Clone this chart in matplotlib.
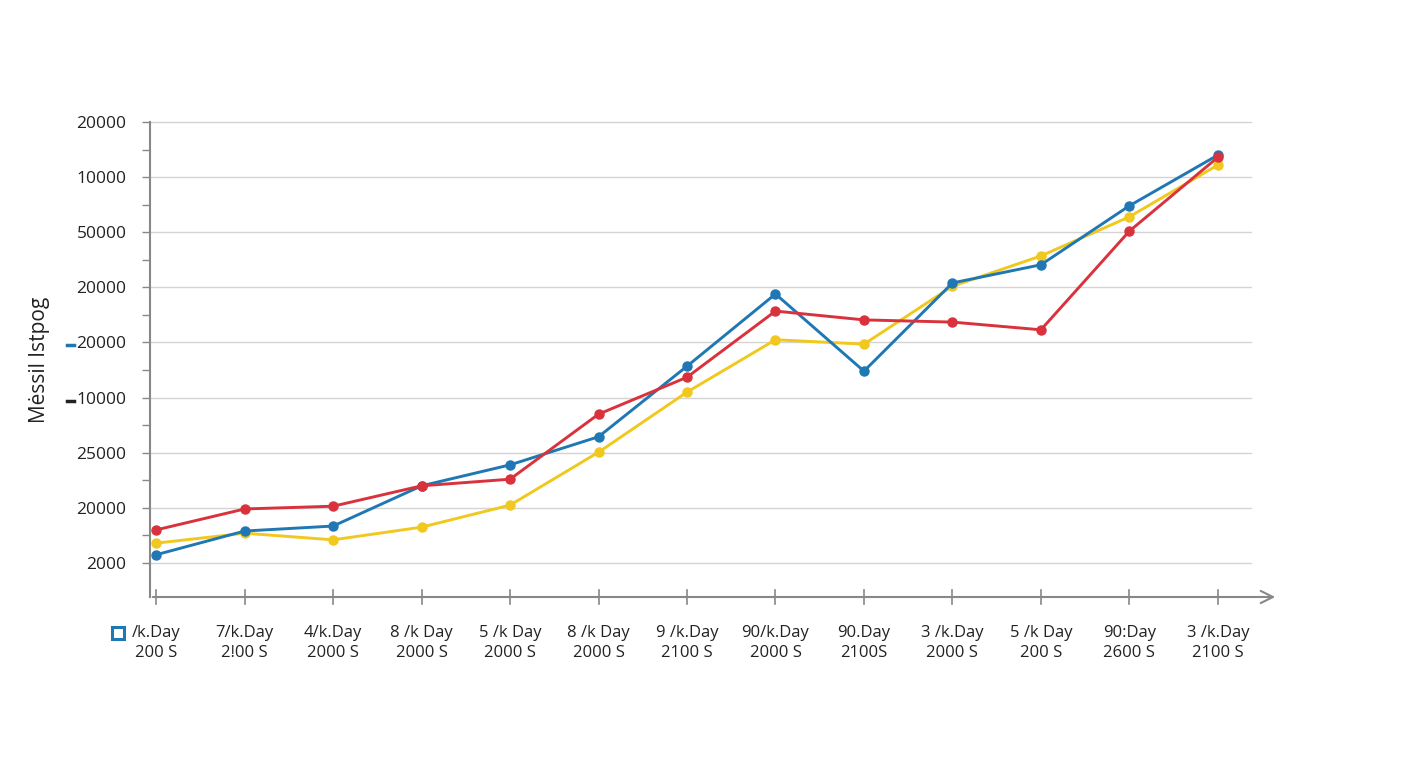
import matplotlib.pyplot as plt
import numpy as np
from matplotlib.lines import Line2D

plt.rcParams["font.family"] = ["Open Sans", "DejaVu Sans"]

# values in grid units (0 = bottom gridline, 8 = top gridline)
red = [0.60, 0.98, 1.03, 1.40, 1.52, 2.70, 3.37, 4.57, 4.41, 4.37, 4.23, 6.02, 7.36]
blue = [0.15, 0.58, 0.67, 1.40, 1.78, 2.29, 3.57, 4.88, 3.48, 5.08, 5.41, 6.48, 7.40]
yellow = [0.36, 0.54, 0.42, 0.65, 1.05, 2.01, 3.10, 4.05, 3.97, 5.02, 5.57, 6.28, 7.22]

x_labels = [
    "/k.Day\n200 S", "7/k.Day\n2!00 S", "4/k.Day\n2000 S", "8 /k Day\n2000 S",
    "5 /k Day\n2000 S", "8 /k Day\n2000 S", "9 /k.Day\n2100 S", "90/k.Day\n2000 S",
    "90.Day\n2100S", "3 /k.Day\n2000 S", "5 /k Day\n200 S", "90:Day\n2600 S",
    "3 /k.Day\n2100 S",
]
y_labels = ["2000", "20000", "25000", "10000", "20000", "20000", "50000", "10000", "20000"]

RED, BLUE, YELLOW = "#d9323c", "#1f77b4", "#f0c81e"

fig = plt.figure(figsize=(14.08, 7.68), dpi=100)
ax = fig.add_axes([150 / 1408, 1 - 597 / 768, (1278 - 150) / 1408, (597 - 122) / 768])

x = np.arange(len(red))
ax.set_xlim(-0.07, 12.68)
ax.set_ylim(-0.617, 8)

# grid
for yv in range(len(y_labels)):
    ax.plot([-0.07, 12.38], [yv, yv], color="#d4d4d4", lw=1, zorder=0, clip_on=False)

for series, c in [(yellow, YELLOW), (blue, BLUE), (red, RED)]:
    ax.plot(x, series, color=c, lw=2.1, marker="o", ms=6.5, zorder=3)

ax.set_yticks(range(len(y_labels)))
ax.set_yticklabels(y_labels, fontsize=12.5, color="#222222")
ax.set_yticks(np.arange(0.5, 8, 1), minor=True)
ax.tick_params(axis="y", which="both", length=6, width=1, color="#888888", pad=11)

ax.set_xticks(x)
ax.set_xticklabels(x_labels, fontsize=12, color="#222222", linespacing=1.35)
ax.tick_params(axis="x", length=0, pad=20)
# ticks crossing the x axis
for xi in x:
    ax.plot([xi, xi], [-0.617 - 0.13, -0.617 + 0.12], color="#888888", lw=1.2, clip_on=False, zorder=2)

for s in ["top", "right", "bottom"]:
    ax.spines[s].set_visible(False)
ax.spines["left"].set_color("#888888")
ax.spines["left"].set_linewidth(1.5)

ax.annotate("", xy=(12.68, -0.617), xytext=(-0.07, -0.617),
            arrowprops=dict(arrowstyle="->", color="#888888", lw=1.5, mutation_scale=22),
            annotation_clip=False)

ax.set_ylabel("Mėssil Istpog", fontsize=15, color="#222222", labelpad=19)

# small legend-like marks
fig.add_artist(Line2D([118 / 1408], [1 - 633 / 768], marker="s", ms=8, mfc="white",
                      mec=BLUE, mew=2.2, transform=fig.transFigure))
fig.add_artist(Line2D([67 / 1408, 74 / 1408], [1 - 345 / 768] * 2, color=BLUE, lw=2.5,
                      transform=fig.transFigure))
fig.add_artist(Line2D([67 / 1408, 74 / 1408], [1 - 401 / 768] * 2, color="#222222", lw=2.5,
                      transform=fig.transFigure))

fig.savefig("out.png", dpi=100)
